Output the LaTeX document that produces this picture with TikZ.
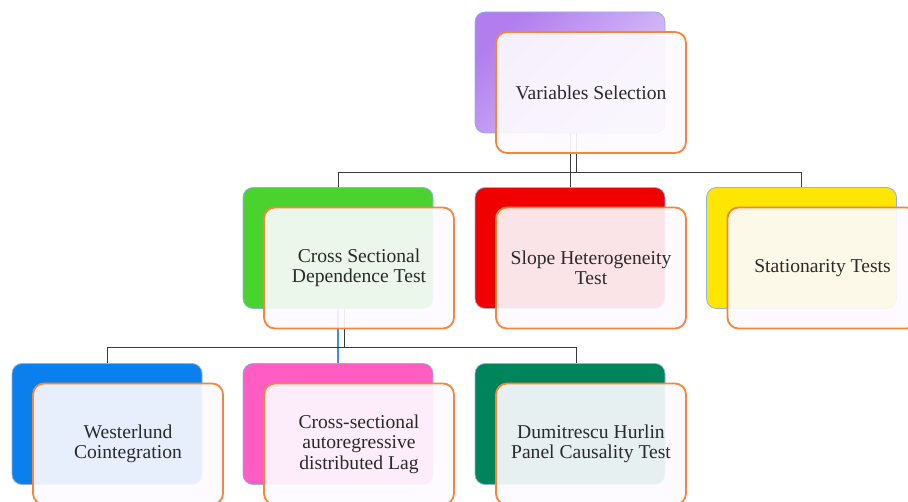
\documentclass[tikz,border=0pt]{standalone}
\usepackage{fontspec}
\setmainfont{Liberation Serif}
\definecolor{edgeblue}{HTML}{8DB4E2}
\definecolor{boxorange}{HTML}{F5853D}
\definecolor{paper}{HTML}{FDFBFF}
\definecolor{linkgray}{HTML}{3A3A3A}
\definecolor{linkblue}{HTML}{3F8CE0}
\definecolor{txt}{HTML}{2A2A2A}
\definecolor{purpleA}{HTML}{B27DEE}
\definecolor{purpleB}{HTML}{DDCBFB}
\definecolor{cgreen}{HTML}{4AD32F}
\definecolor{cred}{HTML}{F00000}
\definecolor{cyellow}{HTML}{FFE600}
\definecolor{cblue}{HTML}{0A80EE}
\definecolor{cpink}{HTML}{FF5DC3}
\definecolor{cteal}{HTML}{00845C}
\tikzset{
  backbox/.style={rectangle, rounded corners=10pt, minimum width=190pt,
    minimum height=121pt, draw=edgeblue, line width=0.8pt, inner sep=0pt},
  frontbox/.style={rectangle, rounded corners=11pt, minimum width=190pt,
    minimum height=121pt, draw=boxorange, line width=1.8pt, fill=paper,
    fill opacity=0.91, text opacity=1, text=txt, align=center,
    inner sep=0pt, font=\fontsize{19.6}{20.5}\selectfont},
  link/.style={draw=linkgray, line width=0.9pt},
}
\begin{document}
\begin{tikzpicture}[x=1pt,y=-1pt]
\useasboundingbox (0,0) rectangle (908,502);

% coloured back cards
\node[backbox, top color=purpleA, bottom color=purpleB, shading angle=45] (vsB) at (570,72.5) {};
\node[backbox, fill=cgreen]  (csB) at (338,248) {};
\node[backbox, fill=cred]    (shB) at (570,248) {};
\node[backbox, fill=cyellow] (stB) at (801.5,248) {};
\node[backbox, fill=cblue]   (wlB) at (107,424) {};
\node[backbox, fill=cpink]   (cdB) at (338,424) {};
\node[backbox, fill=cteal]   (dhB) at (570,424) {};

% bus lines between levels
\coordinate (bus1) at (570,172);
\coordinate (bus2) at (344,347.5);

\draw[link] (vsB.south) -- (shB.north);
\draw[link] ([xshift=6pt]vsB.south) -- ([xshift=6pt]bus1);
\draw[link] (csB.north) -- (csB.north |- bus1) -- (stB.north |- bus1) -- (stB.north);

\draw[draw=linkblue, line width=1.1pt] (csB.south) -- (cdB.north);
\draw[link] ([xshift=6pt]csB.south) -- (bus2);
\draw[link] (wlB.north) -- (wlB.north |- bus2) -- ([xshift=6pt]dhB.north |- bus2) -- ([xshift=6pt]dhB.north);

% translucent front cards with the labels
\node[frontbox] (vsF) at (591,92.5) {Variables Selection};
\node[frontbox] (csF) at (359,268) {Cross Sectional\\Dependence Test};
\node[frontbox] (shF) at (591,268) {Slope Heterogeneity\\Test};
\node[frontbox] (stF) at (822.5,268) {Stationarity Tests};
\node[frontbox] (wlF) at (128,444) {Westerlund\\Cointegration};
\node[frontbox] (cdF) at (359,444) {Cross-sectional\\autoregressive\\distributed Lag};
\node[frontbox] (dhF) at (591,444) {Dumitrescu Hurlin\\Panel Causality Test};
\end{tikzpicture}
\end{document}
